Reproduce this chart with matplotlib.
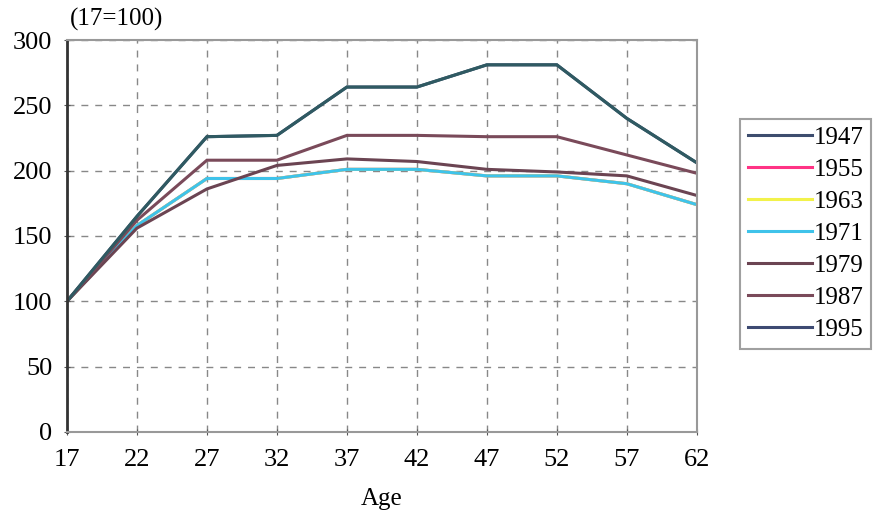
import matplotlib.pyplot as plt
from matplotlib.lines import Line2D

plt.rcParams['font.family'] = ['Liberation Serif', 'DejaVu Serif']

ages = [17, 22, 27, 32, 37, 42, 47, 52, 57, 62]
years = ['1947', '1955', '1963', '1971', '1979', '1987', '1995']

# age-earnings profiles, indexed to age 17 = 100
y1947 = [100, 165, 226, 227, 264, 264, 281, 281, 240, 206]
y1955 = [100, 158, 194, 194, 201, 201, 196, 196, 190, 174]
y1963 = [100, 158, 194, 194, 201, 201, 196, 196, 190, 174]
y1971 = [100, 158, 194, 194, 201, 201, 196, 196, 190, 174]
y1979 = [100, 156, 186, 204, 209, 207, 201, 199, 196, 181]
y1987 = [100, 162, 208, 208, 227, 227, 226, 226, 212, 198]
y1995 = [100, 165, 226, 227, 264, 264, 281, 281, 240, 206]

series = [y1947, y1955, y1963, y1971, y1979, y1987, y1995]
colors = ['#3d4d6e', '#ff3385', '#f2f24a', '#3fc3ea', '#6b4452', '#7a4a5a', '#2f5a62']
legend_colors = ['#3d4d6e', '#ff3385', '#f2f24a', '#3fc3ea', '#6b4452', '#7a4a5a', '#3d4a72']

fig = plt.figure(figsize=(8.73, 5.13), dpi=100)
ax = fig.add_axes([0.0767, 0.158, 0.7215, 0.764])

for vals, c in zip(series, colors):
    ax.plot(ages, vals, color=c, lw=2.2, solid_joinstyle='miter')

ax.set_xlim(17, 62)
ax.set_ylim(0, 300)
ax.set_xticks(ages)
ax.set_yticks(range(0, 301, 50))
ax.tick_params(labelsize=19, length=5, direction='inout', color='#555555')
ax.tick_params(axis='x', pad=10)
ax.tick_params(axis='y', pad=8)
ax.grid(True, color='#888888', ls=(0, (5, 5)), lw=1)

for side in ['top', 'right', 'bottom']:
    ax.spines[side].set_color('#999999')
    ax.spines[side].set_linewidth(1.5)
ax.spines['left'].set_color('#333333')
ax.spines['left'].set_linewidth(2)

ax.set_xlabel('Age', fontsize=18, labelpad=12)
fig.text(0.08, 0.94, '(17=100)', fontsize=18, ha='left', va='bottom')

handles = [Line2D([0], [0], color=c, lw=2.2) for c in legend_colors]
leg = fig.legend(handles, years, loc='upper left', bbox_to_anchor=(0.848, 0.768),
                 fontsize=18, frameon=True, fancybox=False, handlelength=2.55,
                 handletextpad=0.1, labelspacing=0.38, borderpad=0.3,
                 borderaxespad=0)
leg.get_frame().set_edgecolor('#888888')
leg.get_frame().set_linewidth(1.5)

fig.savefig('out.png', dpi=100)
